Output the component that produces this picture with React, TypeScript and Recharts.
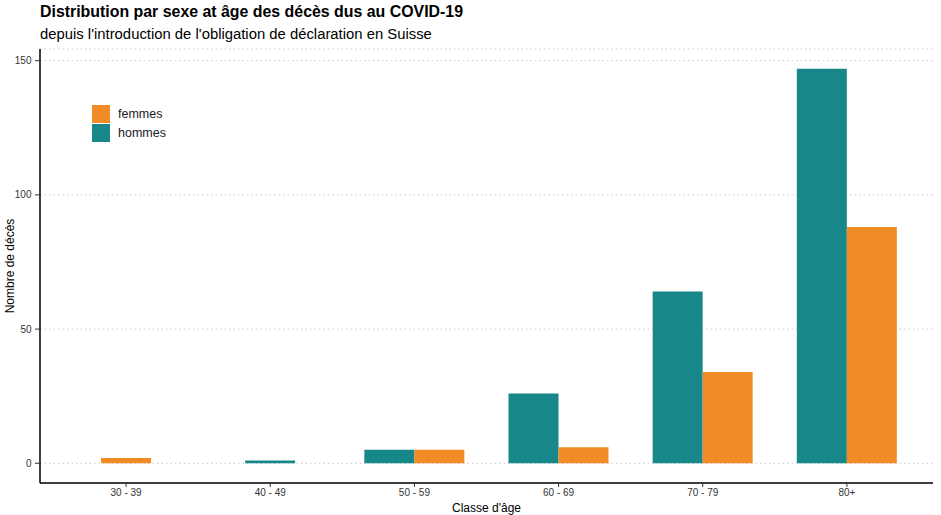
import React from "react";
import {
  BarChart,
  Bar,
  XAxis,
  YAxis,
  CartesianGrid,
  Cell,
  Legend,
  Label,
} from "recharts";

const classes = ["30 - 39", "40 - 49", "50 - 59", "60 - 69", "70 - 79", "80+"];
const hommes = [0, 1, 5, 26, 64, 147];
const femmes = [2, 0, 5, 6, 34, 88];
const yTicks = [0, 50, 100, 150];

const COL_F = "#f18b25";
const COL_H = "#17878a";
const FONT = "'Liberation Sans', Arial, sans-serif";

// like ggplot's dodge2(preserve = "single"): a lone bar stays centred on its class
const data = classes.map((classe, i) => {
  const h = hommes[i];
  const f = femmes[i];
  const solo = h === 0 || f === 0;
  return {
    classe,
    hommes: solo ? null : h,
    femmes: solo ? null : f,
    seul: solo ? h + f : null,
    seulCouleur: h > 0 ? COL_H : COL_F,
  };
});

const legendItems = [
  { label: "femmes", color: COL_F },
  { label: "hommes", color: COL_H },
];

function LegendBox() {
  return (
    <div style={{ fontFamily: FONT, fontSize: 12.5, color: "#1a1a1a" }}>
      {legendItems.map((it) => (
        <div
          key={it.label}
          style={{ display: "flex", alignItems: "center", height: 18, marginBottom: 1 }}
        >
          <span style={{ width: 18, height: 18, background: it.color, marginRight: 8 }} />
          <span>{it.label}</span>
        </div>
      ))}
    </div>
  );
}

const tickStyle = { fontSize: 10, fill: "#333", fontFamily: FONT };

export default function App() {
  return (
    <div
      style={{
        position: "absolute",
        left: 0,
        top: 0,
        width: 941,
        height: 515,
        background: "#fff",
        fontFamily: FONT,
      }}
    >
      <div
        style={{
          position: "absolute",
          left: 40,
          top: 4.2,
          fontSize: 15.9,
          lineHeight: 1,
          fontWeight: "bold",
          color: "#000",
          whiteSpace: "nowrap",
        }}
      >
        Distribution par sexe at âge des décès dus au COVID-19
      </div>
      <div
        style={{
          position: "absolute",
          left: 40,
          top: 26.7,
          fontSize: 14.85,
          lineHeight: 1,
          color: "#000",
          whiteSpace: "nowrap",
        }}
      >
        depuis l'introduction de l'obligation de déclaration en Suisse
      </div>
      <BarChart
        width={941}
        height={515}
        data={data}
        margin={{ top: 49, right: 8, left: 0, bottom: 0 }}
        barGap={0}
        style={{ position: "absolute", left: 0, top: 0 }}
      >
        <CartesianGrid
          xAxisId="x"
          vertical={false}
          stroke="#c8c8c8"
          strokeDasharray="1.5 3"
        />
        <XAxis
          xAxisId="solo"
          dataKey="classe"
          hide
          height={0}
          padding={{ left: 14, right: 14 }}
        />
        <XAxis
          xAxisId="x"
          dataKey="classe"
          height={32}
          padding={{ left: 14, right: 14 }}
          tick={tickStyle}
          tickSize={4}
          tickMargin={2}
          axisLine={{ stroke: "#000", strokeWidth: 1.5 }}
          tickLine={{ stroke: "#333" }}
        >
          <Label
            value="Classe d'âge"
            position="insideBottom"
            offset={3}
            style={{ fontSize: 12, fill: "#000", fontFamily: FONT }}
          />
        </XAxis>
        <YAxis
          type="number"
          width={40}
          domain={[-7.35, 154.35]}
          allowDataOverflow
          ticks={yTicks}
          tick={tickStyle}
          tickSize={5}
          tickMargin={3.5}
          axisLine={{ stroke: "#000", strokeWidth: 1.5 }}
          tickLine={{ stroke: "#333" }}
        >
          <Label
            value="Nombre de décès"
            angle={-90}
            position="insideLeft"
            offset={10}
            style={{ textAnchor: "middle", fontSize: 12, fill: "#000", fontFamily: FONT }}
          />
        </YAxis>
        <Legend
          layout="vertical"
          align="center"
          verticalAlign="middle"
          wrapperStyle={{ left: 92, top: 105, width: "auto" }}
          content={() => <LegendBox />}
        />
        <Bar
          xAxisId="x"
          dataKey="hommes"
          fill={COL_H}
          barSize={50}
          isAnimationActive={false}
        />
        <Bar
          xAxisId="x"
          dataKey="femmes"
          fill={COL_F}
          barSize={50}
          isAnimationActive={false}
        />
        <Bar xAxisId="solo" dataKey="seul" barSize={50} isAnimationActive={false}>
          {data.map((d) => (
            <Cell key={d.classe} fill={d.seulCouleur} />
          ))}
        </Bar>
      </BarChart>
    </div>
  );
}
